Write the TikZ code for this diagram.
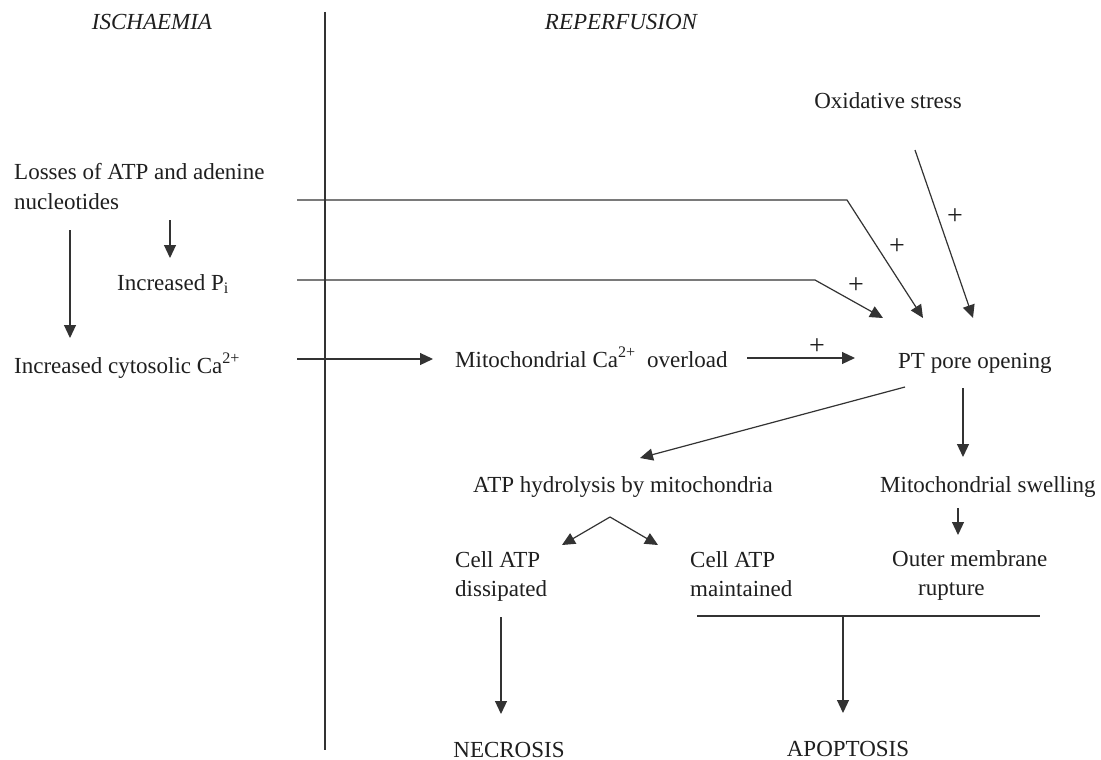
\documentclass[tikz,border=0pt]{standalone}
\usepackage{fontspec}
\setmainfont{Liberation Serif}
\usetikzlibrary{arrows.meta,calc}
\begin{document}
\begin{tikzpicture}[x=1pt,y=-1pt,
  lbl/.style={inner sep=0pt, font=\fontsize{23}{29.5}\selectfont, text=black!88},
  arr/.style={draw=black!80, line width=1.2pt, -{Triangle[length=13pt,width=12pt]}},
  ln/.style={draw=black!80, line width=1.2pt},
  plus/.style={inner sep=0pt, font=\fontsize{28}{30}\selectfont, text=black!88}]
\useasboundingbox[fill=white] (0,0) rectangle (1101,760);

% divider
\coordinate (divTop) at (325,12);
\coordinate (divBot) at (325,750);
\draw[ln] (divTop) -- (divBot);

% nodes
\node[lbl, anchor=base] (isch) at (152,30) {\itshape ISCHAEMIA};
\node[lbl, anchor=base] (reperf) at (621,30) {\itshape REPERFUSION};
\node[lbl, anchor=base east] (oxi) at (962,108) {Oxidative stress};
\node[lbl, anchor=north west, align=left] (losses) at (14,163.3) {Losses of ATP and adenine\\nucleotides};
\node[lbl, anchor=base west] (pi) at (117,290) {Increased P\textsubscript{i}};
\node[lbl, anchor=base west] (cyto) at (14,373) {Increased cytosolic Ca\textsuperscript{2+}};
\node[lbl, anchor=base west] (mito) at (455,367) {Mitochondrial Ca\textsuperscript{2+}\ \ overload};
\node[lbl, anchor=base west] (pt) at (898,368) {PT pore opening};
\node[lbl, anchor=base west] (hydro) at (473,492) {ATP hydrolysis by mitochondria};
\node[lbl, anchor=base west] (swell) at (880,492) {Mitochondrial swelling};
\node[lbl, anchor=north west, align=left] (diss) at (455,551.3) {Cell ATP\\dissipated};
\node[lbl, anchor=north west, align=left] (maint) at (690,551.3) {Cell ATP\\maintained};
\node[lbl, anchor=north west, align=left] (outer) at (892,550.3) {Outer membrane\\\hspace*{26pt}rupture};
\node[lbl, anchor=base] (necro) at (509,757) {NECROSIS};
\node[lbl, anchor=base] (apop) at (848,756) {APOPTOSIS};

% plus signs
\node[plus] (plusOxi) at (955,217) {+};
\node[plus] (plusLoss) at (897,247) {+};
\node[plus] (plusPi) at (856,286) {+};
\node[plus] (plusMito) at (817,347) {+};

% connector end points
\coordinate (lossOut) at (297,200);
\coordinate (lossBend) at (847,200);
\coordinate (ptInA) at (923,318);
\coordinate (piOut) at (297,280);
\coordinate (piBend) at (815,280);
\coordinate (ptInB) at (883,318);
\coordinate (oxiOut) at (915,150);
\coordinate (ptInC) at (973,318);
\coordinate (cytoOut) at (297,359);
\coordinate (mitoIn) at (433,359);
\coordinate (mitoOut) at (747,358);
\coordinate (ptIn) at (855,358);
\coordinate (lossDownA) at (70,230);
\coordinate (cytoIn) at (70,338);
\coordinate (lossDownB) at (170,220);
\coordinate (piIn) at (170,258);
\coordinate (ptOutL) at (905,387);
\coordinate (hydroIn) at (640,458);
\coordinate (ptOutD) at (963,388);
\coordinate (swellIn) at (963,457);
\coordinate (hydroOut) at (610,517);
\coordinate (dissIn) at (562,545);
\coordinate (maintIn) at (658,545);
\coordinate (swellOut) at (958,508);
\coordinate (outerIn) at (958,535);
\coordinate (dissOut) at (501,617);
\coordinate (necroIn) at (501,714);
\coordinate (joinL) at (697,616);
\coordinate (joinR) at (1040,616);
\coordinate (joinOut) at (843,616);
\coordinate (apopIn) at (843,713);

% connectors
\draw[arr] (lossOut) -- (lossBend) -- (ptInA);
\draw[arr] (piOut) -- (piBend) -- (ptInB);
\draw[arr] (oxiOut) -- (ptInC);
\draw[arr] (cytoOut) -- (mitoIn);
\draw[arr] (mitoOut) -- (ptIn);
\draw[arr] (lossDownA) -- (cytoIn);
\draw[arr] (lossDownB) -- (piIn);
\draw[arr] (ptOutL) -- (hydroIn);
\draw[arr] (ptOutD) -- (swellIn);
\draw[arr] (hydroOut) -- (dissIn);
\draw[arr] (hydroOut) -- (maintIn);
\draw[arr] (swellOut) -- (outerIn);
\draw[arr] (dissOut) -- (necroIn);
\draw[ln] (joinL) -- (joinR);
\draw[arr] (joinOut) -- (apopIn);
\end{tikzpicture}
\end{document}
